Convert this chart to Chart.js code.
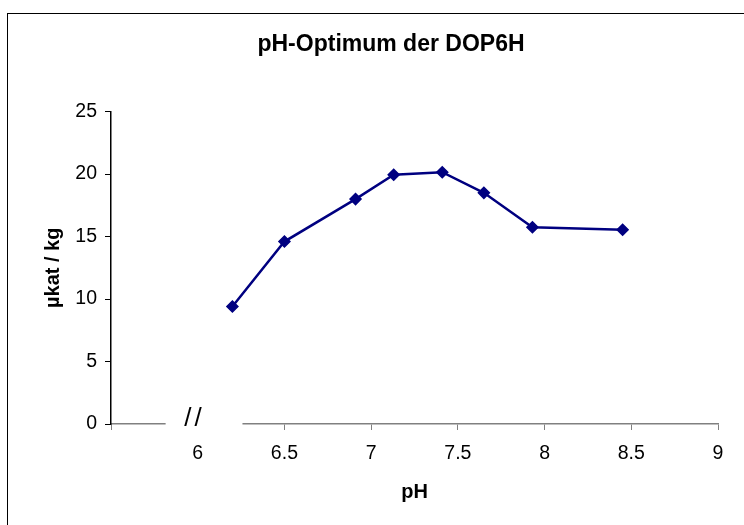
<!DOCTYPE html>
<html>
<head>
<meta charset="utf-8">
<title>pH-Optimum der DOP6H</title>
<script src="https://cdn.jsdelivr.net/npm/chart.js@4.4.1/dist/chart.umd.min.js"></script>
<style>
  html, body { margin: 0; padding: 0; background: #fff; }
  #wrap { width: 744px; height: 525px; }
</style>
</head>
<body>
<div id="wrap"><canvas id="phChart"></canvas></div>
<script>
// Messwerte: pH gegen Aktivität
const phValues = [6.2, 6.5, 6.91, 7.13, 7.41, 7.65, 7.93, 8.45];
const activity = [9.4, 14.6, 18.0, 19.95, 20.15, 18.5, 15.75, 15.55];

const xMin = 5.5, xMax = 9, xStep = 0.5;
const yMin = 0, yMax = 25, yStep = 5;

// Achsenbruch auf der x-Achse
const breakFrom = 5.815, breakTo = 6.258, breakMark = 5.975;

const font = "'Liberation Sans', Arial, sans-serif";

const frameAndBreak = {
    id: 'frameAndBreak',
    beforeDraw(chart) {
        const ctx = chart.ctx;
        ctx.save();
        ctx.fillStyle = '#fff';
        ctx.fillRect(0, 0, chart.width, chart.height);
        ctx.strokeStyle = '#000';
        ctx.lineWidth = 1;
        ctx.strokeRect(7.5, 13.5, chart.width + 20, chart.height + 20);
        ctx.restore();
    },
    afterDraw(chart) {
        const ctx = chart.ctx;
        const x = chart.scales.x;
        const x1 = x.getPixelForValue(breakFrom);
        const x2 = x.getPixelForValue(breakTo);
        const yb = chart.chartArea.bottom;
        ctx.save();
        ctx.fillStyle = '#fff';
        ctx.fillRect(x1, yb - 2, x2 - x1, 10);
        ctx.fillStyle = '#000';
        ctx.font = '26px ' + font;
        ctx.letterSpacing = '3px';
        ctx.textAlign = 'center';
        ctx.textBaseline = 'middle';
        ctx.fillText('//', x.getPixelForValue(breakMark) + 1, yb - 5);
        ctx.restore();
    }
};

new Chart(document.getElementById('phChart').getContext('2d'), {
    type: 'line',
    data: {
        datasets: [{
            label: 'DOP6H',
            data: phValues.map((p, i) => ({ x: p, y: activity[i] })),
            borderColor: '#000080',
            backgroundColor: '#000080',
            borderWidth: 2.5,
            pointStyle: 'rectRot',
            pointRadius: 5.5,
            pointHoverRadius: 5.5,
            pointBorderWidth: 1.5,
            tension: 0,
            fill: false
        }]
    },
    options: {
        responsive: true,
        maintainAspectRatio: false,
        animation: false,
        layout: { padding: { left: 64, right: 26, top: 0, bottom: 0 } },
        plugins: {
            legend: { display: false },
            tooltip: { enabled: false },
            title: {
                display: true,
                text: 'pH-Optimum der DOP6H',
                color: '#000',
                font: { family: font, size: 23, weight: 'bold' },
                padding: { top: 31, bottom: 53 }
            }
        },
        scales: {
            x: {
                type: 'linear',
                min: xMin,
                max: xMax,
                afterFit: s => { s.height = 101; },
                ticks: {
                    stepSize: xStep,
                    color: '#000',
                    padding: 12,
                    font: { family: font, size: 19.5 },
                    callback: v => (v === xMin ? '' : String(v))
                },
                grid: { drawOnChartArea: false, tickLength: 6, color: '#808080' },
                border: { color: '#808080', width: 1.5 },
                title: {
                    display: true,
                    text: 'pH',
                    color: '#000',
                    font: { family: font, size: 20, weight: 'bold' },
                    padding: { top: 0, bottom: 21 }
                }
            },
            y: {
                min: yMin,
                max: yMax,
                afterFit: s => { s.width = 47; },
                ticks: {
                    stepSize: yStep,
                    color: '#000',
                    padding: 8,
                    font: { family: font, size: 19.5 }
                },
                grid: { drawOnChartArea: false, tickLength: 6, color: '#000' },
                border: { color: '#000', width: 1.5 },
                title: {
                    display: true,
                    text: 'µkat / kg',
                    color: '#000',
                    font: { family: font, size: 20, weight: 'bold' },
                    padding: { top: -23, bottom: 0 }
                }
            }
        }
    },
    plugins: [frameAndBreak]
});
</script>
</body>
</html>
